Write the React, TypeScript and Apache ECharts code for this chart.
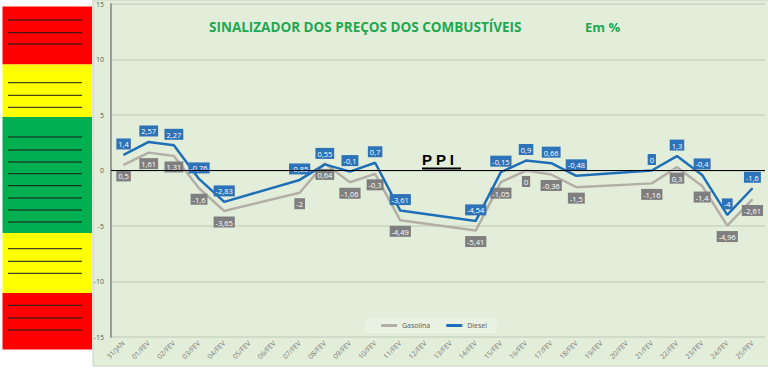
import React, { useEffect, useRef } from "react";
import * as echarts from "echarts";

const categories = [
  "31/JAN", "01/FEV", "02/FEV", "03/FEV", "04/FEV", "05/FEV", "06/FEV", "07/FEV", "08/FEV",
  "09/FEV", "10/FEV", "11/FEV", "12/FEV", "13/FEV", "14/FEV", "15/FEV", "16/FEV", "17/FEV",
  "18/FEV", "19/FEV", "20/FEV", "21/FEV", "22/FEV", "23/FEV", "24/FEV", "25/FEV",
];

const gasolina: (number | null)[] = [
  0.5, 1.61, 1.31, -1.6, -3.65, null, null, -2, 0.64, -1.06, -0.3, -4.49, null, null,
  -5.41, -1.05, 0, -0.36, -1.5, null, null, -1.16, 0.3, -1.4, -4.96, -2.61,
];

const diesel: (number | null)[] = [
  1.4, 2.57, 2.27, -0.76, -2.83, null, null, -0.85, 0.55, -0.1, 0.7, -3.61, null, null,
  -4.54, -0.15, 0.9, 0.66, -0.48, null, null, 0, 1.3, -0.4, -4, -1.6,
];

const yTicks = { min: -15, max: 15, interval: 5 };

const bandLines = {
  red1: [20, 32.7, 44],
  yellow1: [82.7, 95.3, 107.3],
  green: [137, 150, 162, 173.7, 185.7, 198, 210, 222],
  yellow2: [248.7, 261.3, 273.3],
  red2: [305.3, 318, 330],
};

const fmt = (p: any) => String(p.value).replace(".", ",");

export default function App() {
  const ref = useRef<HTMLDivElement>(null);

  useEffect(() => {
    if (!ref.current) return;
    const chart = echarts.init(ref.current, undefined, { renderer: "svg" });

    const bands = [
      { y: 6.5, h: 58, c: "#ff0000" },
      { y: 64.5, h: 52.5, c: "#ffff00" },
      { y: 117, h: 116, c: "#00b050" },
      { y: 233, h: 60, c: "#ffff00" },
      { y: 293, h: 56.5, c: "#ff0000" },
    ];
    const allLines = [
      ...bandLines.red1, ...bandLines.yellow1, ...bandLines.green, ...bandLines.yellow2, ...bandLines.red2,
    ];

    const graphic: any[] = [
      {
        type: "rect",
        z: -10,
        silent: true,
        shape: { x: 93, y: 0, width: 680, height: 366 },
        style: { fill: "#e3eeda", stroke: "#c9cfc4", lineWidth: 1 },
      },
      ...bands.map((b) => ({
        type: "rect",
        silent: true,
        shape: { x: 2.5, y: b.y, width: 89.5, height: b.h },
        style: { fill: b.c },
      })),
      ...allLines.map((y) => ({
        type: "line",
        silent: true,
        shape: { x1: 8, y1: y, x2: 82, y2: y },
        style: { stroke: "#1a1a1a", lineWidth: 1 },
      })),
      {
        type: "text",
        silent: true,
        x: 209,
        y: 27,
        style: {
          text: "SINALIZADOR DOS PREÇOS DOS COMBUSTÍVEIS",
          fill: "#1ea84f",
          font: "bold 13.5px 'Open Sans', sans-serif",
          textVerticalAlign: "middle",
        },
      },
      {
        type: "text",
        silent: true,
        x: 585,
        y: 27,
        style: {
          text: "Em %",
          fill: "#1ea84f",
          font: "bold 13px 'Open Sans', sans-serif",
          textVerticalAlign: "middle",
        },
      },
      {
        type: "text",
        silent: true,
        x: 422,
        y: 167,
        z: 100,
        style: {
          text: "P P I",
          fill: "#000000",
          font: "bold 15px 'Liberation Sans', sans-serif",
          textVerticalAlign: "bottom",
        },
      },
      {
        type: "rect",
        silent: true,
        z: 100,
        shape: { x: 422, y: 167.5, width: 39, height: 2 },
        style: { fill: "#000000" },
      },
    ];

    const labelCommon = {
      show: true,
      formatter: fmt,
      color: "#ffffff",
      fontSize: 7.5,
      fontFamily: "'Open Sans', sans-serif",
      padding: [2, 2, 1, 2],
      lineHeight: 8,
    };

    chart.setOption({
      animation: false,
      backgroundColor: "transparent",
      graphic,
      grid: { left: 111, right: 3, top: 4, bottom: 32, containLabel: false },
      legend: {
        left: 365,
        top: 318,
        itemWidth: 16,
        itemHeight: 3,
        itemGap: 16,
        icon: "rect",
        padding: [4, 10, 4, 16],
        backgroundColor: "#e9f1e3",
        textStyle: { fontSize: 7, color: "#595959", fontFamily: "'Open Sans', sans-serif" },
        data: ["Gasolina", "Diesel"],
      },
      xAxis: {
        type: "category",
        data: categories,
        boundaryGap: true,
        axisLine: { onZero: false, lineStyle: { color: "#111111", width: 3, shadowColor: "rgba(0,0,0,0.35)", shadowBlur: 3, shadowOffsetY: 1 } },
        axisTick: { show: false },
        axisLabel: {
          interval: 0,
          rotate: 45,
          fontSize: 7,
          color: "#7a7a7a",
          margin: 5,
          fontFamily: "'Open Sans', sans-serif",
        },
        splitLine: { show: false },
      },
      yAxis: {
        type: "value",
        min: yTicks.min,
        max: yTicks.max,
        interval: yTicks.interval,
        axisLine: { show: true, lineStyle: { color: "#9a9a9a", width: 2 } },
        axisTick: { show: false },
        axisLabel: { fontSize: 7, color: "#595959", margin: 7, fontFamily: "'Open Sans', sans-serif" },
        splitLine: { show: true, lineStyle: { color: "#cfdbc6", width: 2 } },
      },
      series: [
        {
          name: "Gasolina",
          type: "line",
          data: gasolina,
          connectNulls: true,
          symbol: "circle",
          symbolSize: 1,
          itemStyle: { color: "#b3afa8" },
          lineStyle: { color: "#b3afa8", width: 2.5 },
          label: { ...labelCommon, position: "bottom", distance: 5, backgroundColor: "#7f7f7f" },
          z: 2,
          markLine: {
            silent: true,
            symbol: "none",
            label: { show: false },
            lineStyle: { color: "#000000", width: 1.2, type: "solid" },
            data: [{ yAxis: 0 }],
          },
        },
        {
          name: "Diesel",
          type: "line",
          data: diesel,
          connectNulls: true,
          symbol: "circle",
          symbolSize: 1,
          itemStyle: { color: "#1f6fb8" },
          lineStyle: { color: "#1f6fb8", width: 2.5 },
          label: { ...labelCommon, position: "top", distance: 5, backgroundColor: "#2e72b8" },
          z: 3,
        },
      ],
    });

    return () => chart.dispose();
  }, []);

  return (
    <div
      ref={ref}
      style={{ position: "fixed", left: 0, top: 0, width: 768, height: 369, background: "#ffffff" }}
    />
  );
}
